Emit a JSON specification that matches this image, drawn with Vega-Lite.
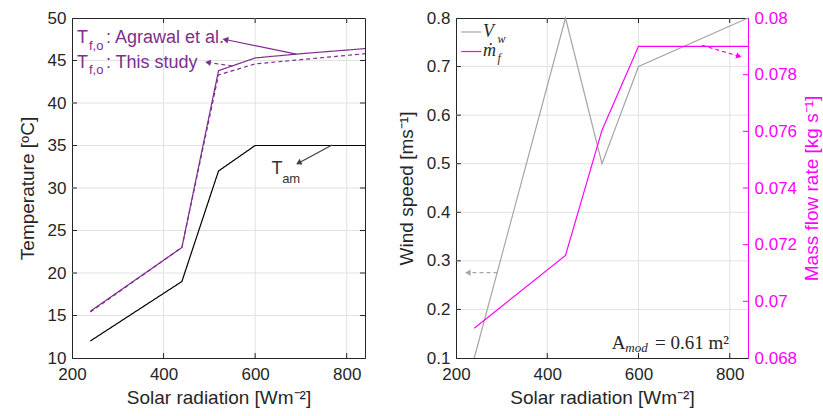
{
  "$schema": "https://vega.github.io/schema/vega-lite/v6.json",
  "background": "white",
  "padding": {"left": 17, "top": 8, "right": 5, "bottom": 5},
  "config": {
    "font": "Liberation Sans",
    "view": {"stroke": "#262626", "strokeWidth": 1},
    "axis": {
      "labelFont": "Liberation Sans", "labelFontSize": 17, "labelColor": "#262626", "labelFlush": false, "labelOverlap": false,
      "titleFont": "Liberation Sans", "titleFontSize": 19, "titleFontWeight": "normal", "titleColor": "#262626",
      "domainColor": "#262626", "ticks": false, "grid": false, "labelPadding": 6
    },
    "axisX": {"labelPadding": 8, "titlePadding": 6},
    "axisY": {"titlePadding": 10},
    "concat": {"spacing": 28}
  },
  "datasets": {
    "temp": [
      {"x": 240, "y": 15.5, "s": "agrawal"}, {"x": 440, "y": 23.0, "s": "agrawal"}, {"x": 520, "y": 43.8, "s": "agrawal"}, {"x": 600, "y": 45.3, "s": "agrawal"}, {"x": 700, "y": 45.8, "s": "agrawal"}, {"x": 840, "y": 46.4, "s": "agrawal"},
      {"x": 240, "y": 15.4, "s": "study"}, {"x": 440, "y": 23.0, "s": "study"}, {"x": 520, "y": 43.3, "s": "study"}, {"x": 600, "y": 44.6, "s": "study"}, {"x": 840, "y": 45.8, "s": "study"},
      {"x": 240, "y": 12, "s": "tam"}, {"x": 440, "y": 19, "s": "tam"}, {"x": 520, "y": 32, "s": "tam"}, {"x": 600, "y": 35, "s": "tam"}, {"x": 840, "y": 35, "s": "tam"}
    ],
    "wind": [
      {"x": 240, "y": 0.1}, {"x": 440, "y": 0.8}, {"x": 520, "y": 0.5}, {"x": 600, "y": 0.7}, {"x": 840, "y": 0.8}
    ],
    "mflow": [
      {"x": 240, "y": 0.06905}, {"x": 440, "y": 0.07162}, {"x": 520, "y": 0.07604}, {"x": 600, "y": 0.0790}, {"x": 840, "y": 0.0790}
    ],
    "gridL": [
      {"x": 400, "y": 10, "x2": 400, "y2": 50}, {"x": 600, "y": 10, "x2": 600, "y2": 50}, {"x": 800, "y": 10, "x2": 800, "y2": 50},
      {"x": 200, "y": 15, "x2": 840, "y2": 15}, {"x": 200, "y": 20, "x2": 840, "y2": 20}, {"x": 200, "y": 25, "x2": 840, "y2": 25},
      {"x": 200, "y": 30, "x2": 840, "y2": 30}, {"x": 200, "y": 35, "x2": 840, "y2": 35}, {"x": 200, "y": 40, "x2": 840, "y2": 40},
      {"x": 200, "y": 45, "x2": 840, "y2": 45}
    ],
    "ticksL": [
      {"x": 200, "y": 15, "x2": 210.9, "y2": 15}, {"x": 200, "y": 20, "x2": 210.9, "y2": 20}, {"x": 200, "y": 25, "x2": 210.9, "y2": 25},
      {"x": 200, "y": 30, "x2": 210.9, "y2": 30}, {"x": 200, "y": 35, "x2": 210.9, "y2": 35}, {"x": 200, "y": 40, "x2": 210.9, "y2": 40},
      {"x": 200, "y": 45, "x2": 210.9, "y2": 45},
      {"x": 840, "y": 15, "x2": 829.1, "y2": 15}, {"x": 840, "y": 20, "x2": 829.1, "y2": 20}, {"x": 840, "y": 25, "x2": 829.1, "y2": 25},
      {"x": 840, "y": 30, "x2": 829.1, "y2": 30}, {"x": 840, "y": 35, "x2": 829.1, "y2": 35}, {"x": 840, "y": 40, "x2": 829.1, "y2": 40},
      {"x": 840, "y": 45, "x2": 829.1, "y2": 45},
      {"x": 400, "y": 10, "x2": 400, "y2": 10.59}, {"x": 600, "y": 10, "x2": 600, "y2": 10.59}, {"x": 800, "y": 10, "x2": 800, "y2": 10.59},
      {"x": 400, "y": 50, "x2": 400, "y2": 49.41}, {"x": 600, "y": 50, "x2": 600, "y2": 49.41}, {"x": 800, "y": 50, "x2": 800, "y2": 49.41}
    ],
    "gridR": [
      {"x": 400, "y": 0.1, "x2": 400, "y2": 0.8}, {"x": 600, "y": 0.1, "x2": 600, "y2": 0.8}, {"x": 800, "y": 0.1, "x2": 800, "y2": 0.8},
      {"x": 200, "y": 0.2, "x2": 840, "y2": 0.2}, {"x": 200, "y": 0.3, "x2": 840, "y2": 0.3}, {"x": 200, "y": 0.4, "x2": 840, "y2": 0.4},
      {"x": 200, "y": 0.5, "x2": 840, "y2": 0.5}, {"x": 200, "y": 0.6, "x2": 840, "y2": 0.6}, {"x": 200, "y": 0.7, "x2": 840, "y2": 0.7}
    ],
    "ticksR": [
      {"x": 200, "y": 0.2, "x2": 210.9, "y2": 0.2}, {"x": 200, "y": 0.3, "x2": 210.9, "y2": 0.3}, {"x": 200, "y": 0.4, "x2": 210.9, "y2": 0.4},
      {"x": 200, "y": 0.5, "x2": 210.9, "y2": 0.5}, {"x": 200, "y": 0.6, "x2": 210.9, "y2": 0.6}, {"x": 200, "y": 0.7, "x2": 210.9, "y2": 0.7},
      {"x": 400, "y": 0.1, "x2": 400, "y2": 0.1103}, {"x": 600, "y": 0.1, "x2": 600, "y2": 0.1103}, {"x": 800, "y": 0.1, "x2": 800, "y2": 0.1103},
      {"x": 400, "y": 0.8, "x2": 400, "y2": 0.7897}, {"x": 600, "y": 0.8, "x2": 600, "y2": 0.7897}, {"x": 800, "y": 0.8, "x2": 800, "y2": 0.7897}
    ],
    "ticksM": [
      {"x": 840, "y": 0.07, "x2": 829.1, "y2": 0.07}, {"x": 840, "y": 0.072, "x2": 829.1, "y2": 0.072}, {"x": 840, "y": 0.074, "x2": 829.1, "y2": 0.074},
      {"x": 840, "y": 0.076, "x2": 829.1, "y2": 0.076}, {"x": 840, "y": 0.078, "x2": 829.1, "y2": 0.078}
    ]
  },
  "hconcat": [
    {
      "width": 293, "height": 340,
      "encoding": {
        "x": {"field": "x", "type": "quantitative", "scale": {"domain": [200, 840], "nice": false, "zero": false}, "axis": {"values": [200, 400, 600, 800], "title": "Solar radiation [Wm⁻²]"}},
        "y": {"field": "y", "type": "quantitative", "scale": {"domain": [10, 50], "nice": false, "zero": false}, "axis": {"values": [10, 15, 20, 25, 30, 35, 40, 45, 50], "title": "Temperature [ᵒC]"}}
      },
      "layer": [
        {
          "data": {"name": "gridL"},
          "mark": {"type": "rule", "color": "#E2E2E2", "strokeWidth": 1},
          "encoding": {"x2": {"field": "x2"}, "y2": {"field": "y2"}}
        },
        {
          "data": {"name": "ticksL"},
          "mark": {"type": "rule", "color": "#262626", "strokeWidth": 1},
          "encoding": {"x2": {"field": "x2"}, "y2": {"field": "y2"}}
        },
        {
          "data": {"name": "temp"},
          "mark": {"type": "line", "strokeWidth": 1.2},
          "encoding": {
            "color": {"field": "s", "type": "nominal", "scale": {"domain": ["agrawal", "study", "tam"], "range": ["#7E2F8E", "#7E2F8E", "#000000"]}, "legend": null},
            "strokeDash": {"field": "s", "type": "nominal", "scale": {"domain": ["agrawal", "study", "tam"], "range": [[1, 0], [4, 3], [1, 0]]}, "legend": null}
          }
        },
        {
          "data": {"values": [{"x": 690, "y": 45.76, "x2": 532, "y2": 47.5}]},
          "mark": {"type": "rule", "color": "#7E2F8E", "strokeWidth": 1.2},
          "encoding": {"x2": {"field": "x2"}, "y2": {"field": "y2"}}
        },
        {
          "data": {"values": [{"x": 535, "y": 47.45}]},
          "mark": {"type": "point", "shape": "triangle-up", "filled": true, "color": "#7E2F8E", "opacity": 1, "size": 45, "angle": 282}
        },
        {
          "data": {"values": [{"x": 550, "y": 44.35, "x2": 495, "y2": 44.78}]},
          "mark": {"type": "rule", "color": "#7E2F8E", "strokeWidth": 1.2, "strokeDash": [4, 3]},
          "encoding": {"x2": {"field": "x2"}, "y2": {"field": "y2"}}
        },
        {
          "data": {"values": [{"x": 497, "y": 44.77}]},
          "mark": {"type": "point", "shape": "triangle-up", "filled": true, "color": "#7E2F8E", "opacity": 1, "size": 40, "angle": 279}
        },
        {
          "data": {"values": [{"x": 768, "y": 35.06, "x2": 692, "y2": 32.85}]},
          "mark": {"type": "rule", "color": "#404040", "strokeWidth": 1.2},
          "encoding": {"x2": {"field": "x2"}, "y2": {"field": "y2"}}
        },
        {
          "data": {"values": [{"x": 695, "y": 32.95}]},
          "mark": {"type": "point", "shape": "triangle-up", "filled": true, "color": "#404040", "opacity": 1, "size": 40, "angle": 242}
        },
        {
          "data": {"values": [
            {"x": 211, "y": 47.65, "t": "T"}, {"x": 274, "y": 47.65, "t": ": Agrawal et al."},
            {"x": 211, "y": 44.74, "t": "T"}, {"x": 274, "y": 44.74, "t": ": This study"}
          ]},
          "mark": {"type": "text", "align": "left", "baseline": "middle", "fontSize": 18, "color": "#7E2F8E", "font": "Liberation Sans"},
          "encoding": {"text": {"field": "t"}}
        },
        {
          "data": {"values": [
            {"x": 237, "y": 46.75, "t": "f,o"},
            {"x": 237, "y": 43.84, "t": "f,o"}
          ]},
          "mark": {"type": "text", "align": "left", "baseline": "middle", "fontSize": 13, "color": "#7E2F8E", "font": "Liberation Sans"},
          "encoding": {"text": {"field": "t"}}
        },
        {
          "data": {"values": [{"x": 636, "y": 32.2, "t": "T"}]},
          "mark": {"type": "text", "align": "left", "baseline": "middle", "fontSize": 18, "color": "#333333", "font": "Liberation Sans"},
          "encoding": {"text": {"field": "t"}}
        },
        {
          "data": {"values": [{"x": 659, "y": 31.1, "t": "am"}]},
          "mark": {"type": "text", "align": "left", "baseline": "middle", "fontSize": 13, "color": "#333333", "font": "Liberation Sans"},
          "encoding": {"text": {"field": "t"}}
        }
      ]
    },
    {
      "width": 292, "height": 340,
      "layer": [
        {
          "encoding": {
            "x": {"field": "x", "type": "quantitative", "scale": {"domain": [200, 840], "nice": false, "zero": false}, "axis": {"values": [200, 400, 600, 800], "title": "Solar radiation [Wm⁻²]"}},
            "y": {"field": "y", "type": "quantitative", "scale": {"domain": [0.1, 0.8], "nice": false, "zero": false}, "axis": {"values": [0.1, 0.2, 0.3, 0.4, 0.5, 0.6, 0.7, 0.8], "format": ".1f", "title": "Wind speed [ms⁻¹]"}}
          },
          "layer": [
            {
              "data": {"name": "gridR"},
              "mark": {"type": "rule", "color": "#E2E2E2", "strokeWidth": 1},
              "encoding": {"x2": {"field": "x2"}, "y2": {"field": "y2"}}
            },
            {
              "data": {"name": "ticksR"},
              "mark": {"type": "rule", "color": "#262626", "strokeWidth": 1},
              "encoding": {"x2": {"field": "x2"}, "y2": {"field": "y2"}}
            },
            {
              "data": {"name": "wind"},
              "mark": {"type": "line", "strokeWidth": 1.2, "color": "#A6A6A6"}
            },
            {
              "data": {"values": [{"x": 291, "y": 0.2756, "x2": 224, "y2": 0.2756}]},
              "mark": {"type": "rule", "color": "#A6A6A6", "strokeWidth": 1.2, "strokeDash": [4, 3]},
              "encoding": {"x2": {"field": "x2"}, "y2": {"field": "y2"}}
            },
            {
              "data": {"values": [{"x": 226, "y": 0.2756}]},
              "mark": {"type": "point", "shape": "triangle-up", "filled": true, "color": "#A6A6A6", "opacity": 1, "size": 40, "angle": 270}
            },
            {
              "data": {"values": [{"x": 211.6, "y": 0.7712, "x2": 255.3, "y2": 0.7712}]},
              "mark": {"type": "rule", "color": "#A6A6A6", "strokeWidth": 1.2},
              "encoding": {"x2": {"field": "x2"}, "y2": {"field": "y2"}}
            },
            {
              "data": {"values": [{"x": 211.6, "y": 0.731, "x2": 255.3, "y2": 0.731}]},
              "mark": {"type": "rule", "color": "#FF00FF", "strokeWidth": 1.2},
              "encoding": {"x2": {"field": "x2"}, "y2": {"field": "y2"}}
            },
            {
              "data": {"values": [{"x": 259, "y": 0.772, "t": "V"}, {"x": 259, "y": 0.733, "t": "ṁ"}]},
              "mark": {"type": "text", "align": "left", "baseline": "middle", "fontSize": 18, "fontStyle": "italic", "color": "#262626", "font": "Liberation Serif"},
              "encoding": {"text": {"field": "t"}}
            },
            {
              "data": {"values": [{"x": 291, "y": 0.757, "t": "w"}, {"x": 291, "y": 0.718, "t": "f"}]},
              "mark": {"type": "text", "align": "left", "baseline": "middle", "fontSize": 12, "fontStyle": "italic", "color": "#262626", "font": "Liberation Serif"},
              "encoding": {"text": {"field": "t"}}
            },
            {
              "data": {"values": [{"x": 541.6, "y": 0.1315, "t": "A"}, {"x": 636, "y": 0.1315, "t": "= 0.61 m²"}]},
              "mark": {"type": "text", "align": "left", "baseline": "middle", "fontSize": 19, "color": "#262626", "font": "Liberation Serif"},
              "encoding": {"text": {"field": "t"}}
            },
            {
              "data": {"values": [{"x": 571, "y": 0.121, "t": "mod"}]},
              "mark": {"type": "text", "align": "left", "baseline": "middle", "fontSize": 13, "fontStyle": "italic", "color": "#262626", "font": "Liberation Serif"},
              "encoding": {"text": {"field": "t"}}
            }
          ]
        },
        {
          "encoding": {
            "x": {"field": "x", "type": "quantitative", "scale": {"domain": [200, 840], "nice": false, "zero": false}, "axis": {"values": [200, 400, 600, 800], "title": "Solar radiation [Wm⁻²]"}},
            "y": {"field": "y", "type": "quantitative", "scale": {"domain": [0.068, 0.08], "nice": false, "zero": false},
              "axis": {"orient": "right", "values": [0.068, 0.07, 0.072, 0.074, 0.076, 0.078, 0.08], "format": "~g", "title": "Mass flow rate [kg s⁻¹]",
                "domainColor": "#FF00FF", "labelColor": "#FF00FF", "titleColor": "#FF00FF", "titleAngle": 270, "titleBaseline": "top", "titlePadding": 6}}
          },
          "layer": [
            {
              "data": {"name": "ticksM"},
              "mark": {"type": "rule", "color": "#FF00FF", "strokeWidth": 1},
              "encoding": {"x2": {"field": "x2"}, "y2": {"field": "y2"}}
            },
            {
              "data": {"name": "mflow"},
              "mark": {"type": "line", "strokeWidth": 1.2, "color": "#FF00FF"}
            },
            {
              "data": {"values": [{"x": 739, "y": 0.07904, "x2": 822, "y2": 0.07864}]},
              "mark": {"type": "rule", "color": "#FF00FF", "strokeWidth": 1.2, "strokeDash": [4, 3]},
              "encoding": {"x2": {"field": "x2"}, "y2": {"field": "y2"}}
            },
            {
              "data": {"values": [{"x": 820, "y": 0.07865}]},
              "mark": {"type": "point", "shape": "triangle-up", "filled": true, "color": "#FF00FF", "opacity": 1, "size": 40, "angle": 106}
            }
          ]
        }
      ],
      "resolve": {"scale": {"y": "independent"}}
    }
  ]
}
